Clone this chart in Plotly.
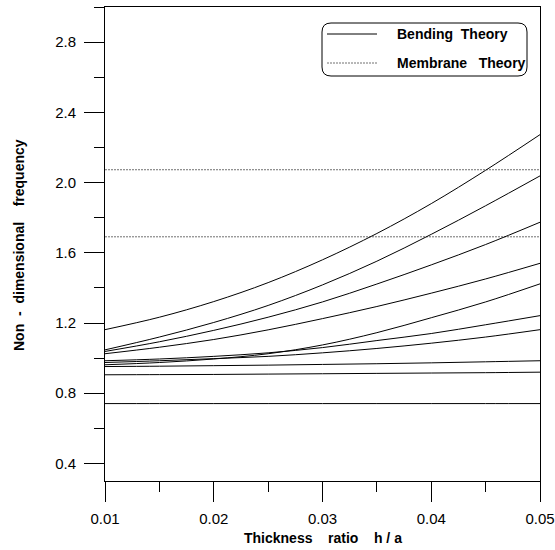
import plotly.graph_objects as go

# Thickness ratio h/a
thickness = [0.01, 0.015, 0.02, 0.025, 0.03, 0.035, 0.04, 0.045, 0.05]

# Bending theory curves (non-dimensional frequency)
bend_1 = [1.162, 1.233, 1.322, 1.430, 1.560, 1.710, 1.880, 2.070, 2.273]
bend_2 = [1.047, 1.120, 1.203, 1.300, 1.417, 1.552, 1.705, 1.868, 2.038]
bend_3 = [1.038, 1.093, 1.158, 1.233, 1.320, 1.422, 1.531, 1.647, 1.774]
bend_4 = [1.025, 1.062, 1.106, 1.161, 1.225, 1.294, 1.370, 1.451, 1.540]
bend_5 = [0.962, 0.975, 0.995, 1.025, 1.075, 1.145, 1.230, 1.320, 1.423]
bend_6 = [0.985, 0.995, 1.010, 1.030, 1.060, 1.100, 1.140, 1.190, 1.242]
bend_7 = [0.975, 0.985, 0.997, 1.010, 1.030, 1.055, 1.085, 1.120, 1.162]
bend_8 = [0.952, 0.954, 0.957, 0.960, 0.964, 0.968, 0.973, 0.979, 0.985]
bend_9 = [0.905, 0.906, 0.907, 0.909, 0.911, 0.913, 0.915, 0.917, 0.920]
bend_10 = [0.741, 0.741, 0.741, 0.741, 0.741, 0.741, 0.741, 0.741, 0.741]
bending_series = [bend_1, bend_2, bend_3, bend_4, bend_5,
                  bend_6, bend_7, bend_8, bend_9, bend_10]

# Membrane theory (constant with thickness)
membrane_values = [2.073, 1.691]
membrane_x = [0.01, 0.05]

x_ticks = [0.01, 0.02, 0.03, 0.04, 0.05]
x_tick_labels = ["0.01", "0.02", "0.03", "0.04", "0.05"]
y_ticks = [0.4, 0.8, 1.2, 1.6, 2.0, 2.4, 2.8]
y_tick_labels = ["0.4", "0.8", "1.2", "1.6", "2.0", "2.4", "2.8"]

W, H = 555, 550
L, R, T, B = 105, 15, 7, 69
PW, PH = W - L - R, H - T - B

def px(x):
    return (x - L) / PW

def py(y):
    return (H - B - y) / PH

FONT = "Liberation Sans, Arial, sans-serif"
NB = "\u00a0"

fig = go.Figure()

for yv in membrane_values:
    fig.add_trace(go.Scatter(
        x=membrane_x, y=[yv, yv], mode="lines",
        line=dict(color="#707070", width=1, dash="2px,1px"),
        showlegend=False, hoverinfo="skip"))

for s in bending_series:
    fig.add_trace(go.Scatter(
        x=thickness, y=s, mode="lines",
        line=dict(color="black", width=1, shape="spline", smoothing=1.0),
        showlegend=False, hoverinfo="skip"))

# Manual rounded legend box
bx0, bx1, by0, by1 = 322, 527, 23, 76
r = 9
rx, ry = r / PW, r / PH
X0, X1, Y0, Y1 = px(bx0), px(bx1), py(by1), py(by0)
path = (f"M {X0+rx} {Y1} L {X1-rx} {Y1} Q {X1} {Y1} {X1} {Y1-ry} "
        f"L {X1} {Y0+ry} Q {X1} {Y0} {X1-rx} {Y0} "
        f"L {X0+rx} {Y0} Q {X0} {Y0} {X0} {Y0+ry} "
        f"L {X0} {Y1-ry} Q {X0} {Y1} {X0+rx} {Y1} Z")
shapes = [
    dict(type="path", xref="paper", yref="paper", path=path,
         line=dict(color="black", width=1), fillcolor="white", layer="above"),
    dict(type="line", xref="paper", yref="paper",
         x0=px(327), x1=px(377), y0=py(34), y1=py(34),
         line=dict(color="black", width=1), layer="above"),
    dict(type="line", xref="paper", yref="paper",
         x0=px(327), x1=px(377), y0=py(63), y1=py(63),
         line=dict(color="#707070", width=1, dash="2px,1px"), layer="above"),
]
annotations = [
    dict(xref="paper", yref="paper", x=px(395), y=py(34), xanchor="left",
         yanchor="middle", showarrow=False,
         text=f"<b>Bending{NB}{NB}Theory</b>",
         font=dict(family=FONT, size=14, color="black")),
    dict(xref="paper", yref="paper", x=px(395), y=py(63), xanchor="left",
         yanchor="middle", showarrow=False,
         text=f"<b>Membrane{NB*3}Theory</b>",
         font=dict(family=FONT, size=14, color="black")),
    # axis titles
    dict(xref="paper", yref="paper", x=px(322.5), y=py(538), xanchor="center",
         yanchor="middle", showarrow=False,
         text=f"<b>Thickness{NB*4}ratio{NB*4}h{NB}/{NB}a</b>",
         font=dict(family=FONT, size=14, color="black")),
    dict(xref="paper", yref="paper", x=px(19), y=py(245), xanchor="center",
         yanchor="middle", showarrow=False, textangle=-90,
         text=f"<b>Non{NB}{NB}-{NB}{NB}dimensional{NB*4}frequency</b>",
         font=dict(family=FONT, size=14, color="black")),
]

fig.update_layout(
    width=W, height=H,
    margin=dict(l=L, r=R, t=T, b=B, pad=0, autoexpand=False),
    paper_bgcolor="white", plot_bgcolor="white",
    font=dict(family=FONT, size=15, color="black"),
    shapes=shapes, annotations=annotations,
    xaxis=dict(
        range=[0.01, 0.05], tickvals=x_ticks, ticktext=x_tick_labels,
        ticks="outside", ticklen=20, tickwidth=1, tickcolor="black",
        showline=True, linecolor="black", linewidth=1, mirror=True,
        showgrid=False, zeroline=False, automargin=False,
        ticklabelstandoff=4,
        minor=dict(tickvals=[0.015, 0.025, 0.035, 0.045], ticks="outside",
                   ticklen=10, tickwidth=1, tickcolor="black", showgrid=False),
        tickfont=dict(family=FONT, size=15, color="black"),
    ),
    yaxis=dict(
        range=[0.3, 3.0], tickvals=y_ticks, ticktext=y_tick_labels,
        ticks="outside", ticklen=20, tickwidth=1, tickcolor="black",
        showline=True, linecolor="black", linewidth=1, mirror=True,
        showgrid=False, zeroline=False, automargin=False,
        ticklabelstandoff=5,
        minor=dict(tickvals=[0.6, 1.0, 1.4, 1.8, 2.2, 2.6, 3.0], ticks="outside",
                   ticklen=10, tickwidth=1, tickcolor="black", showgrid=False),
        tickfont=dict(family=FONT, size=15, color="black"),
    ),
)

fig.write_html("out.html")
